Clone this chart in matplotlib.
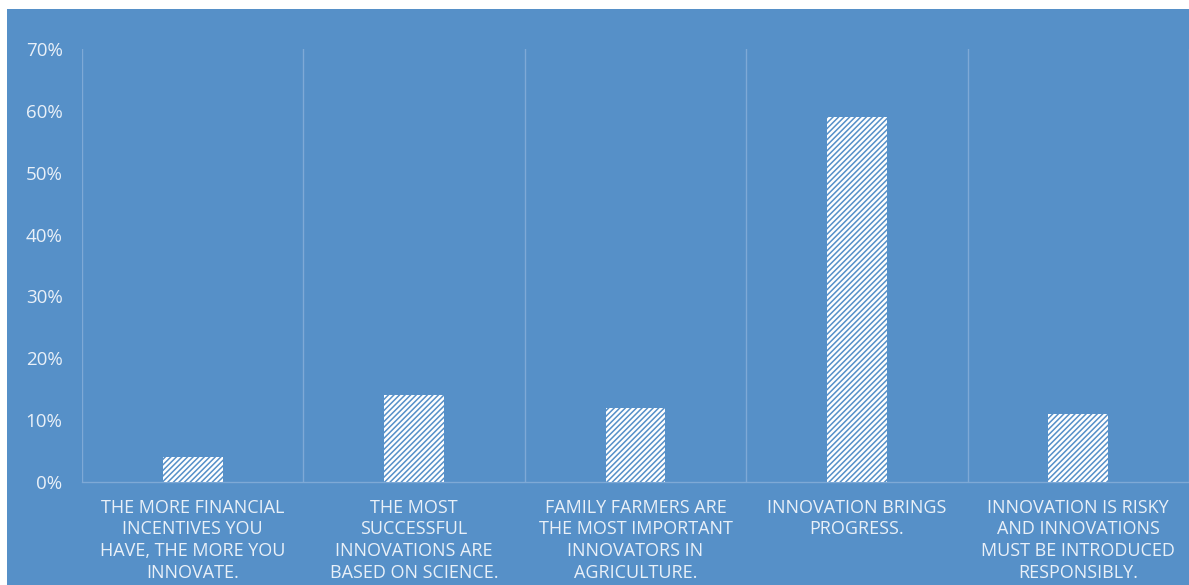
import matplotlib
matplotlib.use("Agg")
import matplotlib.pyplot as plt
from matplotlib.patches import Rectangle
from matplotlib.ticker import FuncFormatter, FixedLocator

categories = [
    "THE MORE FINANCIAL\nINCENTIVES YOU\nHAVE, THE MORE YOU\nINNOVATE.",
    "THE MOST\nSUCCESSFUL\nINNOVATIONS ARE\nBASED ON SCIENCE.",
    "FAMILY FARMERS ARE\nTHE MOST IMPORTANT\nINNOVATORS IN\nAGRICULTURE.",
    "INNOVATION BRINGS\nPROGRESS.",
    "INNOVATION IS RISKY\nAND INNOVATIONS\nMUST BE INTRODUCED\nRESPONSIBLY.",
]
values = [0.04, 0.14, 0.12, 0.59, 0.11]
yticks = [0.0, 0.1, 0.2, 0.3, 0.4, 0.5, 0.6, 0.7]

BG = "#5690C8"
GRID = "#7EA9D6"
TXT = "#E9F0F8"

plt.rcParams["hatch.linewidth"] = 1.1
plt.rcParams["font.family"] = ["Open Sans", "DejaVu Sans"]

W, H = 1189, 585
fig = plt.figure(figsize=(W / 100, H / 100), dpi=100, facecolor="white")
fig.patches.append(Rectangle((7 / W, 0), 1 - 7 / W, 1 - 9 / H, transform=fig.transFigure,
                             facecolor=BG, edgecolor="none", zorder=-10))

ax = fig.add_axes([82 / W, 1 - 482 / H, 1 - 82 / W, (482 - 49) / H])
ax.set_facecolor(BG)
ax.patch.set_alpha(0)

x = list(range(len(categories)))
ax.bar(x, values, width=0.27, color="white", edgecolor=BG, hatch="//////", linewidth=0, zorder=3)

ax.set_xlim(-0.5, len(categories) - 0.5)
ax.set_ylim(0, 0.7)
ax.set_yticks(yticks)
ax.yaxis.set_major_formatter(FuncFormatter(lambda v, p: f"{v*100:.0f}%"))
ax.tick_params(axis="y", length=0, pad=14, labelsize=13.5, labelcolor=TXT)

ax.set_xticks(x)
ax.set_xticklabels(categories, linespacing=1.27)
ax.tick_params(axis="x", which="major", length=0, pad=12, labelsize=13, labelcolor=TXT)
ax.xaxis.set_minor_locator(FixedLocator([i + 0.5 for i in range(-1, len(categories))]))
ax.tick_params(axis="x", which="minor", length=0)
ax.grid(True, axis="x", which="minor", color=GRID, linewidth=1, zorder=1)
ax.grid(False, axis="y")
ax.grid(False, axis="x", which="major")

for s in ["top", "right", "left"]:
    ax.spines[s].set_visible(False)
ax.spines["bottom"].set_color(GRID)
ax.spines["bottom"].set_linewidth(1)

fig.savefig("out.png", dpi=100, facecolor="white")
